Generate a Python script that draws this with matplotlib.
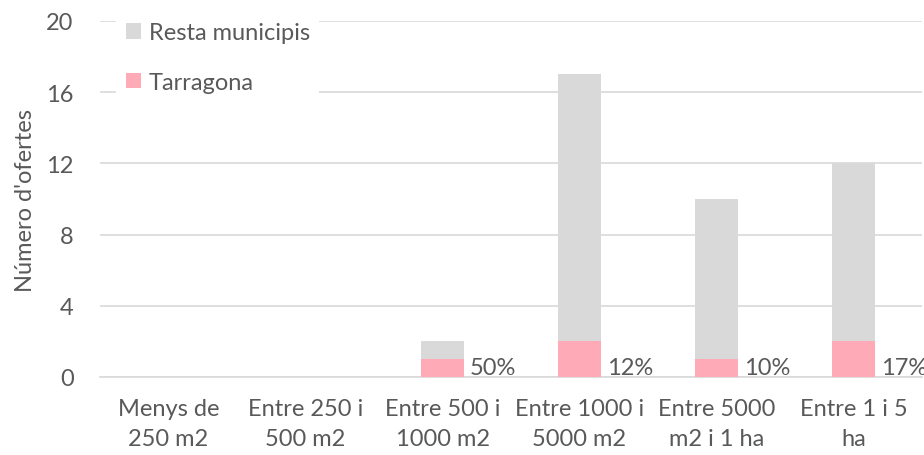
import matplotlib
matplotlib.use("Agg")
import matplotlib.pyplot as plt
import numpy as np

categories = ["Menys de\n250 m2", "Entre 250 i\n500 m2", "Entre 500 i\n1000 m2",
              "Entre 1000 i\n5000 m2", "Entre 5000\nm2 i 1 ha", "Entre 1 i 5\nha"]
tarragona = [0, 0, 1, 2, 1, 2]
resta = [0, 0, 1, 15, 9, 10]
pct_labels = ["", "", "50%", "12%", "10%", "17%"]
yticks = [0, 4, 8, 12, 16, 20]

plt.rcParams['font.family'] = ['Lato', 'DejaVu Sans']
txt = "#595959"
grid = "#D9D9D9"
c_resta = "#D9D9D9"
c_tarr = "#FFABB7"
fs = 17

fig = plt.figure(figsize=(9.24, 4.56), dpi=100)
ax = fig.add_axes([100/924, 78/456, 822/924, 356/456])

x = np.arange(len(categories))
w = 0.31
ax.bar(x, tarragona, width=w, color=c_tarr, label="Tarragona", zorder=3)
ax.bar(x, resta, width=w, bottom=tarragona, color=c_resta, label="Resta municipis", zorder=3)

for i, lab in enumerate(pct_labels):
    if lab:
        ax.text(x[i] + w/2 + 0.045, 0.17, lab, ha="left", va="baseline",
                fontsize=fs, color=txt, zorder=4)

ax.set_xlim(-0.5, len(categories) - 0.5)
ax.set_ylim(0, 20)
ax.set_yticks(yticks)
ax.set_xticks(x)
ax.set_xticklabels(categories, fontsize=fs, color=txt, linespacing=1.55)
ax.tick_params(axis="y", length=0, pad=19, labelsize=fs, labelcolor=txt)
ax.tick_params(axis="x", length=0, pad=15)
ax.yaxis.grid(True, color=grid, linewidth=1.2, zorder=0)
ax.set_axisbelow(True)
for s in ["top", "right", "left"]:
    ax.spines[s].set_visible(False)
ax.spines["bottom"].set_color(grid)
ax.spines["bottom"].set_linewidth(1.2)
ax.set_ylabel("Número d'ofertes", fontsize=fs, color=txt, labelpad=7)

h, l = ax.get_legend_handles_labels()
leg = ax.legend(h[::-1], l[::-1], loc="upper left", bbox_to_anchor=(0.02, 1.023),
                fontsize=fs, frameon=True, facecolor="white", edgecolor="none",
                framealpha=1, handlelength=0.62, handleheight=0.62,
                labelspacing=1.2, handletextpad=0.35, borderpad=0.4,
                borderaxespad=0.0)
for t in leg.get_texts():
    t.set_color(txt)
leg.set_zorder(5)

fig.savefig("out.png", dpi=100)
